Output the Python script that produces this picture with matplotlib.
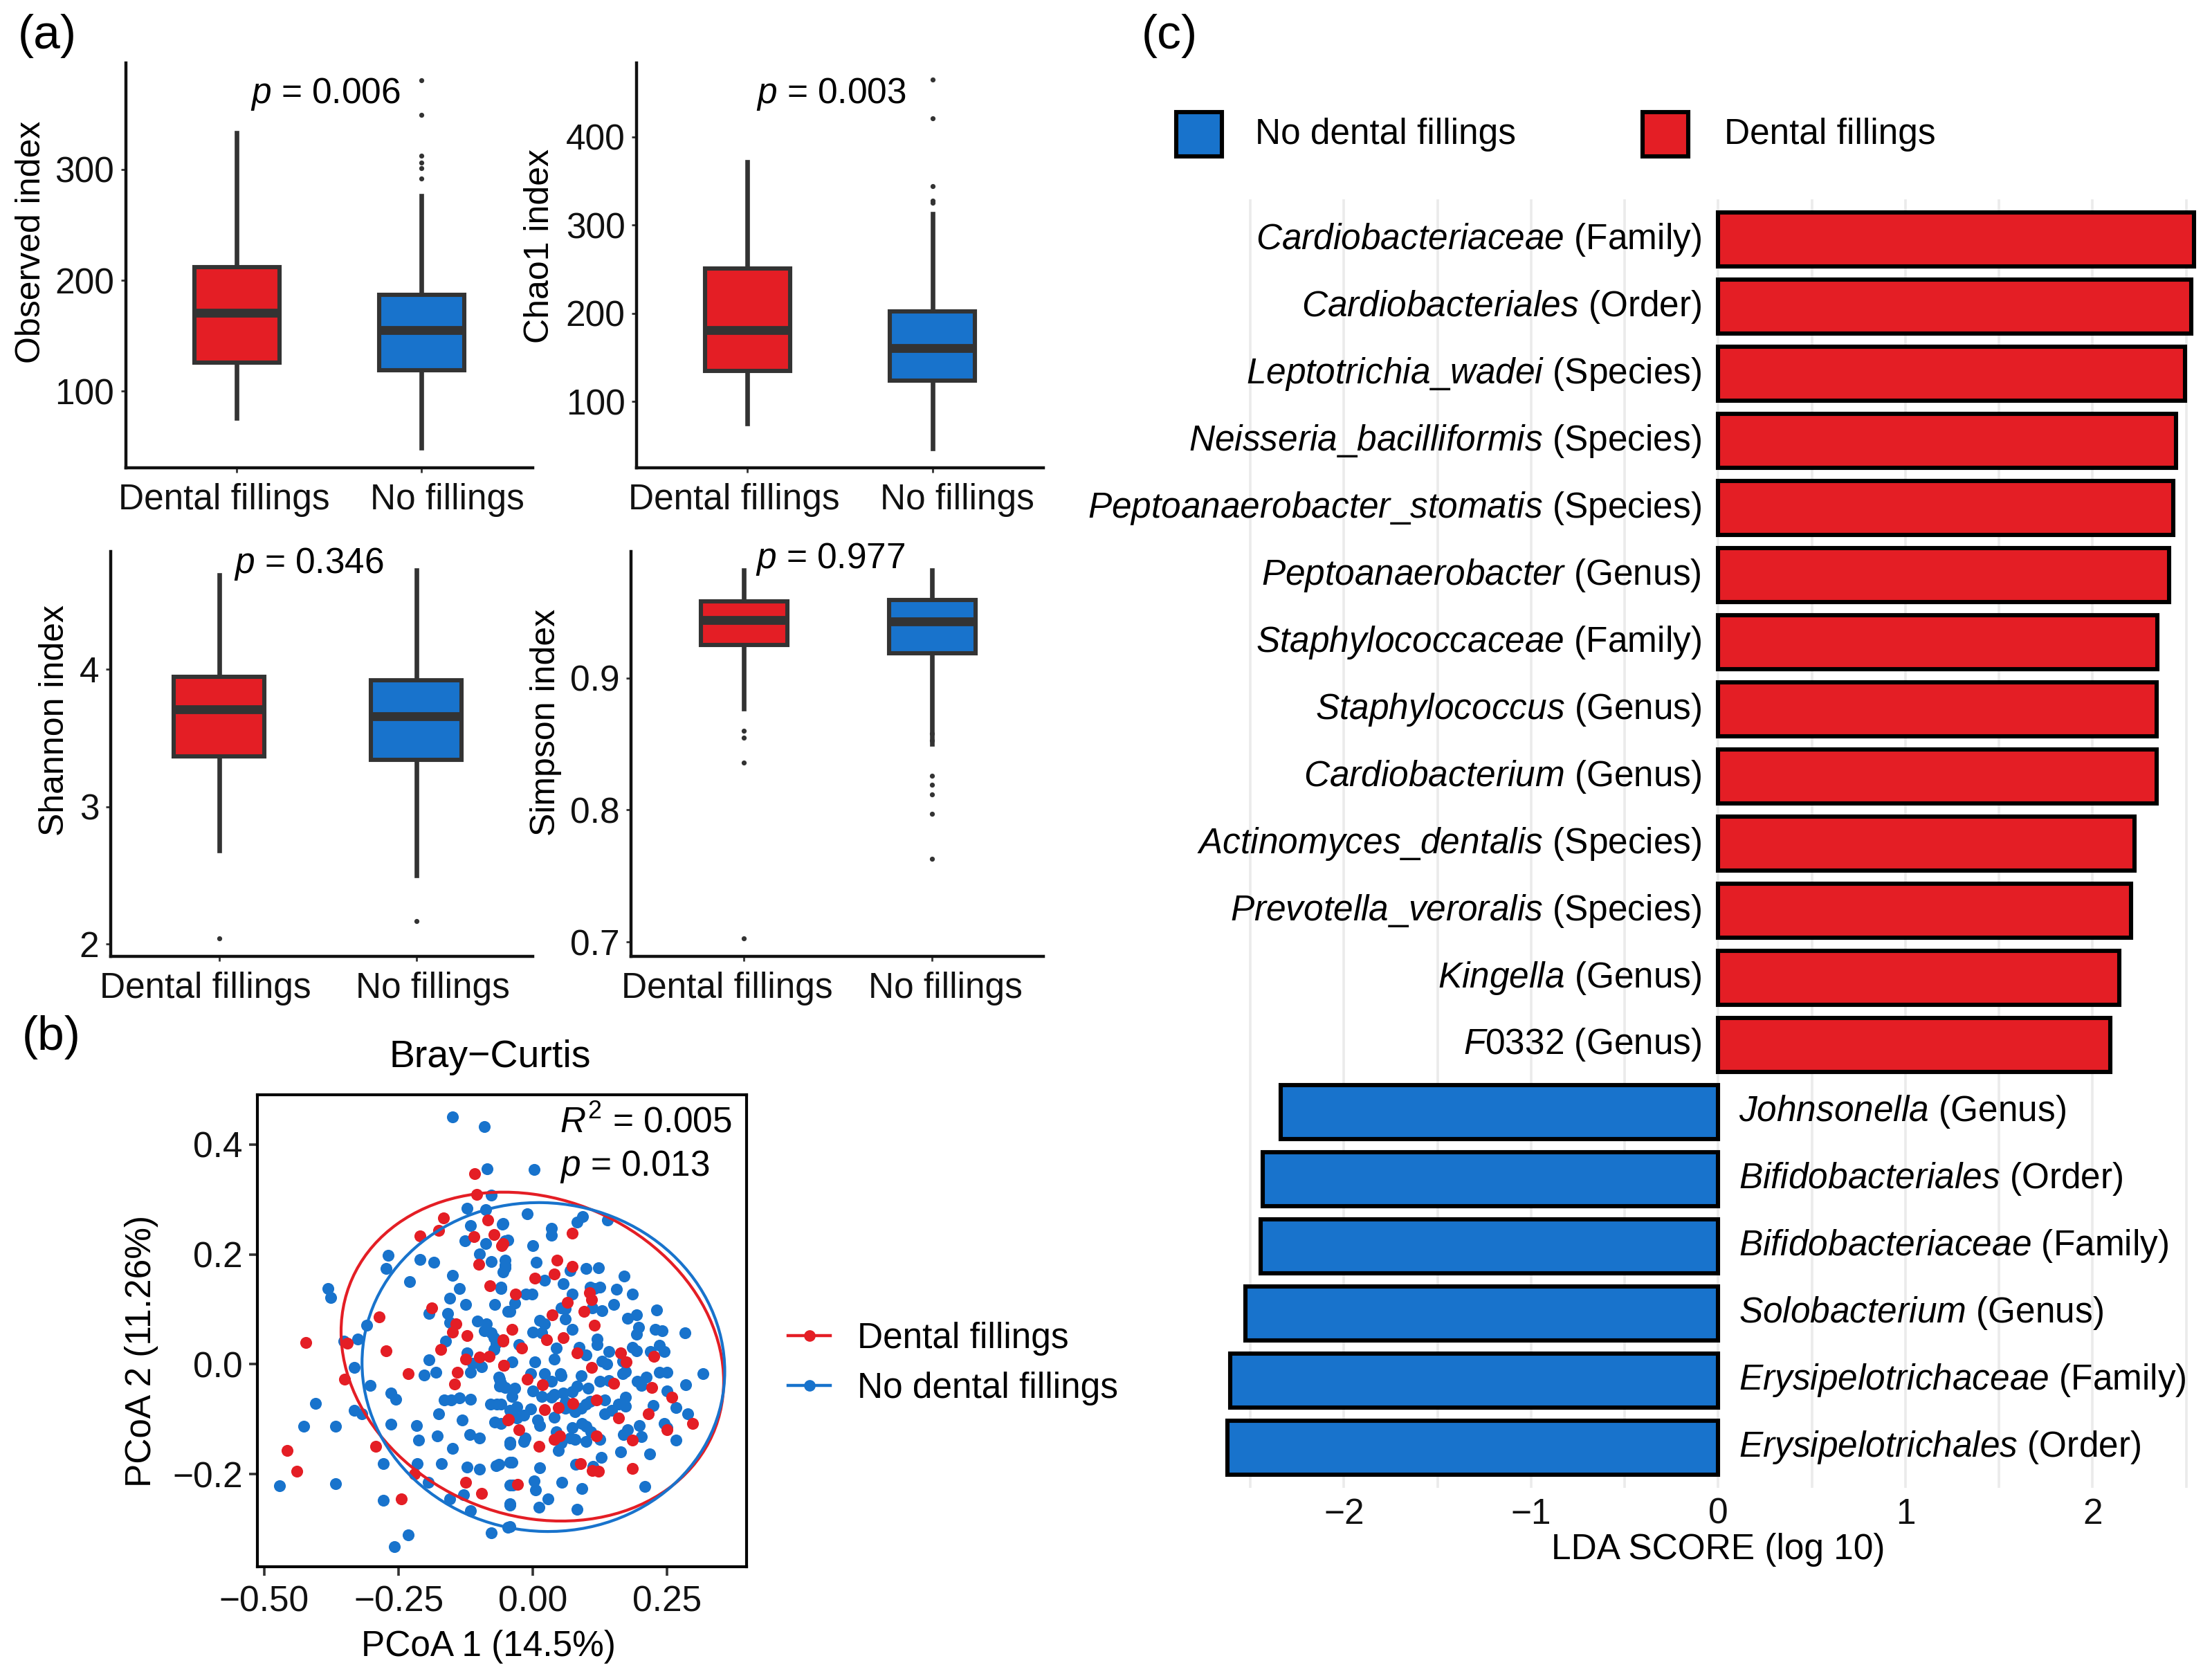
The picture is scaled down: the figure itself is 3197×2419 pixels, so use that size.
import numpy as np
import matplotlib
matplotlib.use('Agg')
import matplotlib.pyplot as plt
import matplotlib.patches as mpatches
from matplotlib.lines import Line2D
from matplotlib.transforms import Affine2D, ScaledTranslation

plt.rcParams['font.family'] = ['Liberation Sans', 'DejaVu Sans']
plt.rcParams['mathtext.fontset'] = 'custom'
plt.rcParams['mathtext.rm'] = 'Liberation Sans'
plt.rcParams['mathtext.it'] = 'Liberation Sans:italic'
plt.rcParams['mathtext.sf'] = 'Liberation Sans'

RED = '#E41E25'
BLUE = '#1873CC'
DARK = '#333333'
FS = 18.5
# -----------------------------------------------------------------------------
# (a) alpha diversity box statistics, order: Dental fillings, No fillings

GROUPS = ['Dental fillings', 'No fillings']

OBS_Q1 = [126, 119]
OBS_MED = [171, 155]
OBS_Q3 = [212, 187]
OBS_LO = [76, 49]
OBS_HI = [333, 276]
OBS_OUT = [[], [380, 349, 312, 306, 301, 292]]

CHAO_Q1 = [135, 124]
CHAO_MED = [181, 161]
CHAO_Q3 = [251, 202]
CHAO_LO = [75, 47]
CHAO_HI = [372, 313]
CHAO_OUT = [[], [465, 421, 344, 328, 325]]

SHAN_Q1 = [3.365, 3.342]
SHAN_MED = [3.71, 3.66]
SHAN_Q3 = [3.945, 3.918]
SHAN_LO = [2.68, 2.50]
SHAN_HI = [4.685, 4.72]
SHAN_OUT = [[2.04], [2.165]]

SIMP_Q1 = [0.925, 0.919]
SIMP_MED = [0.944, 0.943]
SIMP_Q3 = [0.958, 0.9595]
SIMP_LO = [0.877, 0.850]
SIMP_HI = [0.982, 0.982]
SIMP_OUT = [[0.860, 0.855, 0.836, 0.7025],
            [0.858, 0.853, 0.826, 0.819, 0.812, 0.797, 0.763]]

P_VALUES = ['0.006', '0.003', '0.346', '0.977']

# -----------------------------------------------------------------------------
# (b) PCoA on Bray-Curtis

BLUE_X = [-0.149, -0.091, -0.085, -0.077, -0.122, -0.088, -0.057, -0.116,
          -0.127, -0.088, -0.052, -0.099, -0.077, -0.052, -0.056, -0.270,
          -0.273, -0.210, -0.185, -0.230, -0.150, -0.137, -0.060, -0.071,
          -0.155, -0.125, -0.047, -0.159, -0.193, -0.103, -0.090, -0.073,
          -0.163, -0.309, -0.326, -0.352, -0.382, -0.376, -0.333, -0.193,
          -0.202, -0.180, -0.116, -0.069, -0.064, -0.122, -0.095,
          0.002, -0.011, -0.056, -0.047, 0.000, 0.034, 0.034, 0.082, 0.092,
          0.139, -0.052, -0.052, 0.006, 0.021, 0.056, 0.099, 0.122, 0.170,
          -0.013, -0.060, 0.073, 0.114, 0.155, 0.185, -0.043, 0.013, 0.060,
          0.129, 0.150, 0.176, 0.197, 0.230, 0.283, 0.000, 0.073, 0.120,
          0.193, 0.227, 0.236, 0.193, 0.043, 0.004, -0.039, 0.099, 0.137,
          0.316, 0.249, 0.172, 0.051,
          -0.303, -0.264, -0.255, -0.404, -0.427, -0.367, -0.333, -0.318,
          -0.264, -0.217, -0.213, -0.178, -0.176, -0.165, -0.152, -0.131,
          -0.116, -0.118, -0.099, -0.150, -0.170, -0.215, -0.279, -0.122,
          -0.099, -0.069, -0.067, -0.071, -0.062, -0.062, -0.043, -0.043,
          -0.472, -0.367, -0.279, -0.195, -0.155, -0.129, -0.116, -0.077,
          -0.047, -0.043, -0.043, -0.232, -0.258,
          -0.060, -0.034, 0.000, 0.035, 0.056, 0.082, 0.103, 0.125, 0.194,
          0.211, 0.236, 0.249, 0.284, -0.060, -0.030, -0.004, 0.035, 0.060,
          0.078, 0.099, 0.133, 0.172, 0.159, 0.224, 0.266, 0.288, 0.133,
          -0.060, -0.030, 0.013, 0.043, 0.073, 0.091, 0.108, 0.078, 0.099,
          0.125, 0.176, 0.198, 0.202, 0.245, 0.249, 0.266, -0.043, -0.017,
          0.048, 0.168, -0.064, -0.039, 0.013, 0.080, 0.112, 0.127, 0.163,
          0.217, -0.037, 0.002, 0.005, 0.054, 0.091, 0.208, -0.043, 0.011,
          0.028, 0.082, -0.043,
          -0.052, -0.039, -0.004, 0.022, 0.052, 0.090, 0.142, 0.167, 0.202,
          0.073, 0.039, 0.017, -0.017, -0.043, 0.009, 0.039, 0.060, 0.090,
          0.107, 0.146, 0.172, 0.099, 0.069, 0.052, -0.015,
          -0.034, -0.002, 0.069, 0.052, 0.060, 0.107, 0.125, 0.110, 0.193,
          0.240, 0.219, 0.245, 0.185, 0.142, 0.120, 0.086, 0.022, 0.017,
          -0.026, -0.077, -0.073, 0.039, -0.086, 0.129, 0.167,
          -0.155, -0.112, -0.137, -0.079]
BLUE_Y = [0.450, 0.432, 0.356, 0.307, 0.284, 0.281, 0.255, 0.252,
          0.224, 0.219, 0.224, 0.201, 0.187, 0.180, 0.168, 0.198,
          0.174, 0.191, 0.185, 0.150, 0.162, 0.138, 0.138, 0.109,
          0.120, 0.109, 0.096, 0.092, 0.092, 0.078, 0.061, 0.048,
          0.042, 0.071, 0.046, 0.042, 0.138, 0.122, -0.006, 0.008,
          -0.019, -0.015, -0.015, 0.038, -0.023, 0.021, -0.004,
          0.354, 0.273, 0.256, 0.226, 0.216, 0.247, 0.235, 0.258, 0.268,
          0.262, 0.189, 0.176, 0.185, 0.153, 0.147, 0.174, 0.176, 0.161,
          0.128, 0.140, 0.128, 0.138, 0.136, 0.128, 0.096, 0.080, 0.101,
          0.097, 0.109, 0.084, 0.067, 0.099, 0.057, 0.059, 0.063, 0.046,
          0.055, 0.063, 0.034, 0.025, 0.029, 0.004, 0.004, 0.017, 0.000,
          -0.017, -0.015, -0.013, -0.017,
          -0.038, -0.052, -0.063, -0.071, -0.113, -0.113, -0.084, -0.090,
          -0.109, -0.111, -0.138, -0.130, -0.090, -0.065, -0.065, -0.101,
          -0.063, -0.128, -0.134, -0.153, -0.180, -0.180, -0.180, -0.187,
          -0.191, -0.185, -0.073, -0.105, -0.027, -0.040, -0.145, -0.178,
          -0.221, -0.217, -0.247, -0.214, -0.245, -0.237, -0.266, -0.306,
          -0.296, -0.220, -0.254, -0.310, -0.331,
          -0.035, -0.044, -0.048, -0.031, -0.052, -0.040, -0.044, -0.031,
          -0.031, -0.023, -0.014, -0.048, -0.037, -0.073, -0.077, -0.081,
          -0.060, -0.069, -0.086, -0.073, -0.065, -0.060, -0.073, -0.075,
          -0.079, -0.090, -0.090, -0.107, -0.098, -0.111, -0.123, -0.115,
          -0.107, -0.123, -0.136, -0.140, -0.136, -0.119, -0.111, -0.132,
          -0.107, -0.115, -0.138, -0.142, -0.140, -0.157, -0.128, -0.182,
          -0.178, -0.188, -0.182, -0.186, -0.169, -0.159, -0.163, -0.220,
          -0.212, -0.228, -0.214, -0.226, -0.222, -0.256, -0.260, -0.245,
          -0.264, -0.295,
          -0.042, -0.059, -0.017, -0.017, -0.021, -0.021, -0.029, -0.017,
          -0.038, -0.050, -0.055, -0.059, -0.092, -0.084, -0.101, -0.096,
          -0.080, -0.080, -0.067, -0.084, -0.076, -0.113, -0.134, -0.143,
          -0.134,
          0.111, 0.128, 0.170, 0.103, 0.082, 0.140, 0.140, 0.103, 0.090,
          0.061, 0.023, 0.023, 0.031, 0.023, 0.036, 0.031, 0.073, 0.057,
          0.036, 0.057, 0.027, 0.010, 0.073, 0.006, 0.006,
          0.076, 0.002, -0.061, -0.073]

RED_X = [-0.108, -0.104, -0.166, -0.176, -0.210, -0.084, -0.110, -0.072,
         -0.058, -0.101, -0.080, -0.188, -0.286, -0.143, -0.150, -0.122,
         -0.056, -0.172, -0.273, -0.346, -0.423, -0.125, -0.099, -0.082,
         -0.054, -0.232, -0.140, -0.350,
         0.073, -0.056, 0.045, 0.039, 0.004, 0.073, -0.032, 0.105, 0.109,
         0.095, 0.064, 0.036, 0.114, -0.039, -0.056, -0.021, 0.026, 0.056,
         0.082, 0.163, 0.174, 0.225, 0.109, -0.054,
         -0.146, -0.047, -0.292, -0.457, -0.440, -0.221, -0.125, -0.095,
         -0.245,
         -0.010, 0.018, 0.150, 0.221, 0.258, 0.022, 0.048, 0.118, 0.075,
         0.159, 0.215, -0.045, 0.297, -0.026, 0.011, 0.039, 0.050, 0.118,
         0.185, 0.249, 0.088, 0.122, 0.110, 0.185, -0.028]
RED_Y = [0.347, 0.309, 0.266, 0.243, 0.233, 0.262, 0.232, 0.236,
         0.216, 0.182, 0.143, 0.102, 0.086, 0.073, 0.059, 0.052,
         0.044, 0.027, 0.025, 0.038, 0.040, 0.010, 0.013, 0.015,
         -0.002, -0.017, -0.015, -0.027,
         0.239, 0.220, 0.189, 0.164, 0.157, 0.178, 0.128, 0.130, 0.117,
         0.096, 0.113, 0.090, 0.071, 0.063, 0.042, 0.029, 0.044, 0.048,
         0.021, 0.021, 0.004, 0.015, -0.006, -0.002,
         -0.036, -0.101, -0.149, -0.157, -0.194, -0.199, -0.214, -0.235,
         -0.245,
         -0.027, -0.037, -0.035, -0.042, -0.060, -0.082, -0.079, -0.065,
         -0.071, -0.098, -0.090, -0.100, -0.107, -0.119, -0.149, -0.136,
         -0.130, -0.130, -0.138, -0.119, -0.180, -0.195, -0.193, -0.190,
         -0.218]

# 95% ellipses: centre x, centre y, half width, half height, skew (deg)
RED_ELLIPSE = [-0.001, 0.014, 0.356, 0.299, -8.7]
BLUE_ELLIPSE = [0.0195, -0.005, 0.3375, 0.299, -1.5]

# -----------------------------------------------------------------------------
# (c) LEfSe

TAXA = ['Cardiobacteriaceae', 'Cardiobacteriales', 'Leptotrichia_wadei',
        'Neisseria_bacilliformis', 'Peptoanaerobacter_stomatis',
        'Peptoanaerobacter', 'Staphylococcaceae', 'Staphylococcus',
        'Cardiobacterium', 'Actinomyces_dentalis', 'Prevotella_veroralis',
        'Kingella', 'F0332', 'Johnsonella', 'Bifidobacteriales',
        'Bifidobacteriaceae', 'Solobacterium', 'Erysipelotrichaceae',
        'Erysipelotrichales']
RANKS = ['Family', 'Order', 'Species', 'Species', 'Species', 'Genus',
         'Family', 'Genus', 'Genus', 'Species', 'Species', 'Genus', 'Genus',
         'Genus', 'Order', 'Family', 'Genus', 'Family', 'Order']
LDA = [2.540, 2.528, 2.494, 2.445, 2.430, 2.407, 2.346, 2.343, 2.343,
       2.225, 2.206, 2.142, 2.093, -2.339, -2.434, -2.445, -2.528, -2.608,
       -2.623]

# -----------------------------------------------------------------------------


def draw_box(ax, q1, med, q3, lo, hi, out, ylim, yticks, yticklabels,
             xlim, ylabel, ylab_x, ylab_y, pval, px, py, lab_shift):
    stats = []
    for i in range(len(GROUPS)):
        stats.append(dict(q1=q1[i], med=med[i], q3=q3[i], whislo=lo[i],
                          whishi=hi[i], fliers=out[i], label=GROUPS[i]))
    parts = ax.bxp(stats, positions=[1, 2], widths=0.46, patch_artist=True,
                   showcaps=False,
                   boxprops=dict(edgecolor=DARK, linewidth=2.2, zorder=3),
                   medianprops=dict(color=DARK, linewidth=4.6,
                                    solid_capstyle='butt', zorder=4),
                   whiskerprops=dict(color=DARK, linewidth=2.4, zorder=2),
                   flierprops=dict(marker='o', markersize=2.6,
                                   markerfacecolor=DARK,
                                   markeredgecolor='none'))
    for box, c in zip(parts['boxes'], [RED, BLUE]):
        box.set_facecolor(c)

    ax.set_xlim(*xlim)
    ax.set_ylim(*ylim)
    ax.set_yticks(yticks)
    ax.set_yticklabels(yticklabels)
    ax.set_xticks([1, 2])
    ax.set_xticklabels([])
    # group names in the original sit a little outward from the ticks
    fig = ax.figure
    for pos, name, dx in zip([1, 2], GROUPS, lab_shift):
        tr = ax.get_xaxis_transform() + ScaledTranslation(
            dx / 200, -8 / 72, fig.dpi_scale_trans)
        ax.text(pos, 0, name, transform=tr, ha='center', va='top',
                fontsize=FS, color='#111111')

    for s in ['top', 'right']:
        ax.spines[s].set_visible(False)
    for s in ['left', 'bottom']:
        ax.spines[s].set_linewidth(1.6)
        ax.spines[s].set_color('#111111')
    ax.tick_params(axis='y', length=2.5, width=1.0, pad=3.5, labelsize=FS,
                   color=DARK, labelcolor='#111111')
    ax.tick_params(axis='x', length=2.5, width=1.0, color=DARK)
    ax.set_ylabel(ylabel, fontsize=18)
    ax.yaxis.label.set_va('center')
    ax.yaxis.set_label_coords(ylab_x, ylab_y)
    ax.text(px, py, r'$p$ = ' + pval, transform=ax.transAxes, ha='center',
            va='center', fontsize=FS)

# -----------------------------------------------------------------------------


def draw_ellipse(ax, params, color):
    '''
    unit circle pushed through an affine map -> stat_ellipse style outline
    '''
    cx, cy, hw, hh, skew = params
    d = np.deg2rad(skew)
    m = np.array([[hw, 0, cx],
                  [hh * np.sin(d), hh * np.cos(d), cy],
                  [0, 0, 1]])
    circ = mpatches.Circle((0, 0), 1, fill=False, edgecolor=color,
                           linewidth=1.5, zorder=4)
    circ.set_transform(Affine2D(m) + ax.transData)
    ax.add_patch(circ)


def draw_pcoa(ax):
    ax.scatter(BLUE_X, BLUE_Y, s=38, color=BLUE, linewidths=0, zorder=2)
    ax.scatter(RED_X, RED_Y, s=38, color=RED, linewidths=0, zorder=3)
    draw_ellipse(ax, RED_ELLIPSE, RED)
    draw_ellipse(ax, BLUE_ELLIPSE, BLUE)

    ax.set_xlim(-0.513, 0.398)
    ax.set_ylim(-0.368, 0.490)
    ax.set_xticks([-0.50, -0.25, 0.00, 0.25])
    ax.set_xticklabels(['\u22120.50', '\u22120.25', '0.00', '0.25'])
    ax.set_yticks([-0.2, 0.0, 0.2, 0.4])
    ax.set_yticklabels(['\u22120.2', '0.0', '0.2', '0.4'])
    for s in ax.spines.values():
        s.set_linewidth(1.5)
        s.set_color('black')
    ax.tick_params(axis='both', length=4.5, width=1.3, color=DARK,
                   labelsize=FS, labelcolor='#111111')
    ax.tick_params(axis='y', pad=3.0)
    ax.tick_params(axis='x', pad=5.0)

    ax.text(0.475, 1.079, 'Bray\u2212Curtis', transform=ax.transAxes,
            ha='center', va='center', fontsize=20)
    ax.text(0.472, -0.170, 'PCoA 1 (14.5%)', transform=ax.transAxes,
            ha='center', va='center', fontsize=FS)
    ax.text(-0.237, 0.456, 'PCoA 2 (11.26%)', transform=ax.transAxes,
            ha='center', va='center', rotation=90, fontsize=FS)
    ax.text(0.618, 0.941, r'$R^2$ = 0.005', transform=ax.transAxes,
            ha='left', va='center', fontsize=FS)
    ax.text(0.618, 0.848, r'$p$ = 0.013', transform=ax.transAxes,
            ha='left', va='center', fontsize=FS)

    handles = [Line2D([0], [0], color=RED, lw=1.6, marker='o', ms=5),
               Line2D([0], [0], color=BLUE, lw=1.6, marker='o', ms=5)]
    ax.legend(handles, ['Dental fillings', 'No dental fillings'],
              loc='center left', bbox_to_anchor=(1.084, 0.43),
              frameon=False, fontsize=FS, handlelength=1.2,
              handletextpad=0.75, labelspacing=0.45, borderpad=0,
              borderaxespad=0)

# -----------------------------------------------------------------------------


def draw_lefse(fig, ax):
    rows = np.arange(len(TAXA))
    colors = [RED if v > 0 else BLUE for v in LDA]
    ax.barh(rows, LDA, height=0.8, color=colors, edgecolor='black',
            linewidth=2.2, zorder=3)

    for r, name, rank, v in zip(rows, TAXA, RANKS, LDA):
        lab = r'$\mathit{' + name.replace('_', r'\_') + '}$ (' + rank + ')'
        if v > 0:
            ax.text(-0.09, r, lab, ha='right', va='center', fontsize=FS)
        else:
            ax.text(0.11, r, lab, ha='left', va='center', fontsize=FS)

    ax.set_xlim(-2.9, 2.9)
    ax.set_ylim(18.6, -0.6)
    ax.set_xticks([-2, -1, 0, 1, 2])
    ax.set_xticklabels(['\u22122', '\u22121', '0', '1', '2'])
    ax.set_xticks(np.arange(-2.5, 2.6, 0.5), minor=True)
    ax.set_yticks([])
    ax.grid(which='both', axis='x', color='#EBEBEB', linewidth=1.3)
    ax.set_axisbelow(True)
    for s in ax.spines.values():
        s.set_visible(False)
    ax.tick_params(axis='x', which='both', length=0, pad=5, labelsize=FS,
                   labelcolor='#111111')
    ax.text(0.5, -0.048, 'LDA SCORE (log 10)', transform=ax.transAxes,
            ha='center', va='center', fontsize=FS)

    # legend squares on top
    for x0, col, txt, tx in [(0.5318, BLUE, 'No dental fillings', 0.5674),
                             (0.7426, RED, 'Dental fillings', 0.7795)]:
        fig.add_artist(mpatches.Rectangle((x0, 0.9066), 0.0206, 0.0265,
                                          facecolor=col, edgecolor='black',
                                          linewidth=2.2,
                                          transform=fig.transFigure))
        fig.text(tx, 0.9198, txt, ha='left', va='center', fontsize=FS)

# -----------------------------------------------------------------------------


def make_figure():
    fig = plt.figure(figsize=(15.985, 12.095), dpi=200)

    ax1 = fig.add_axes([0.0569, 0.7205, 0.1839, 0.242])
    draw_box(ax1, OBS_Q1, OBS_MED, OBS_Q3, OBS_LO, OBS_HI, OBS_OUT,
             (31, 396), [100, 200, 300], ['100', '200', '300'], (0.4, 2.6),
             'Observed index', -0.233, 0.558, P_VALUES[0], 0.49, 0.922,
             (-18, 37))

    ax2 = fig.add_axes([0.2878, 0.7205, 0.1839, 0.242])
    draw_box(ax2, CHAO_Q1, CHAO_MED, CHAO_Q3, CHAO_LO, CHAO_HI, CHAO_OUT,
             (25, 484), [100, 200, 300, 400], ['100', '200', '300', '400'],
             (0.4, 2.6), 'Chao1 index', -0.238, 0.547, P_VALUES[1],
             0.478, 0.922, (-20, 36))

    ax3 = fig.add_axes([0.0500, 0.4287, 0.1908, 0.2418])
    draw_box(ax3, SHAN_Q1, SHAN_MED, SHAN_Q3, SHAN_LO, SHAN_HI, SHAN_OUT,
             (1.91, 4.856), [2, 3, 4], ['2', '3', '4'], (0.45, 2.59),
             'Shannon index', -0.133, 0.583, P_VALUES[2], 0.469, 0.969,
             (-20, 24))

    ax4 = fig.add_axes([0.2853, 0.4287, 0.1864, 0.2418])
    draw_box(ax4, SIMP_Q1, SIMP_MED, SIMP_Q3, SIMP_LO, SIMP_HI, SIMP_OUT,
             (0.689, 0.996), [0.7, 0.8, 0.9], ['0.7', '0.8', '0.9'],
             (0.4, 2.59), 'Simpson index', -0.206, 0.578, P_VALUES[3],
             0.483, 0.981, (-25, 19))

    ax5 = fig.add_axes([0.1163, 0.0641, 0.2213, 0.2819])
    draw_pcoa(ax5)

    ax6 = fig.add_axes([0.5314, 0.1112, 0.4908, 0.7697])
    draw_lefse(fig, ax6)

    fig.text(0.008, 1 - 52 / 2419, '(a)', ha='left', va='center', fontsize=25)
    fig.text(0.010, 1 - 1499 / 2419, '(b)', ha='left', va='center',
             fontsize=25)
    fig.text(0.516, 1 - 52 / 2419, '(c)', ha='left', va='center', fontsize=25)

    fig.savefig('out.png', dpi=200)


if __name__ == '__main__':
    make_figure()
